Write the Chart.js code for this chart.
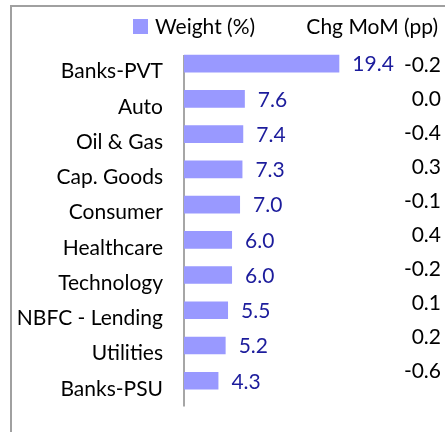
<!DOCTYPE html>
<html>
<head>
<meta charset="utf-8">
<script src="https://cdn.jsdelivr.net/npm/chart.js@4/dist/chart.umd.min.js"></script>
<style>
  html, body { margin: 0; padding: 0; background: #fff; }
  #wrap { width: 445px; height: 432px; }
</style>
</head>
<body>
<div id="wrap"><canvas id="weightView"></canvas></div>
<script>
const sectors = ["Banks-PVT", "Auto", "Oil & Gas", "Cap. Goods", "Consumer",
    "Healthcare", "Technology", "NBFC - Lending", "Utilities", "Banks-PSU"];
const weights = [19.4, 7.6, 7.4, 7.3, 7.0, 6.0, 6.0, 5.5, 5.2, 4.3];
const chgMoM = [-0.2, 0.0, -0.4, 0.3, -0.1, 0.4, -0.2, 0.1, 0.2, -0.6];

const FONT = "Lato, 'Open Sans', sans-serif";
const BAR = "#9999ff";
const LABEL_BLUE = "#1c1c9c";

// frame, axis line, header, value labels and the MoM column
const extras = {
    id: "extras",
    beforeDraw(chart) {
        const c = chart.ctx;
        const area = chart.chartArea;
        c.save();
        c.strokeStyle = "#a0a0a0";
        c.lineWidth = 2;
        c.strokeRect(11, 6, 600, 600);
        c.strokeStyle = "#a6a6a6";
        c.beginPath();
        c.moveTo(area.left, area.top + 9);
        c.lineTo(area.left, area.bottom + 8);
        c.stroke();
        c.restore();
    },
    afterDatasetsDraw(chart) {
        const c = chart.ctx;
        const meta = chart.getDatasetMeta(0);
        const y = chart.scales.y;
        c.save();
        c.font = "21px " + FONT;
        c.textBaseline = "middle";

        // legend
        c.fillStyle = BAR;
        c.fillRect(133, 19, 15, 15);
        c.fillStyle = "#000";
        c.textAlign = "left";
        c.fillText("Weight (%)", 155, 27);
        c.textAlign = "right";
        c.fillText("Chg MoM (pp)", 438, 27);

        meta.data.forEach((bar, i) => {
            c.textAlign = "left";
            c.fillStyle = LABEL_BLUE;
            c.fillText(weights[i].toFixed(1), bar.x + 13, bar.y + 1);
            c.textAlign = "right";
            c.fillStyle = "#000";
            c.fillText(chgMoM[i].toFixed(1), 441, y.getPixelForValue(i) + 2 - i * 1.33);
        });
        c.restore();
    },
};

new Chart(document.getElementById("weightView"), {
    type: "bar",
    data: {
        labels: sectors,
        datasets: [
            {
                label: "Weight (%)",
                data: weights,
                backgroundColor: BAR,
                borderWidth: 0,
                categoryPercentage: 1.0,
                barPercentage: 0.5,
            },
        ],
    },
    options: {
        indexAxis: "y",
        responsive: true,
        maintainAspectRatio: false,
        animation: false,
        layout: {
            padding: { left: 10, right: 0, top: 46, bottom: 26 },
        },
        plugins: {
            legend: { display: false },
            tooltip: { enabled: false },
        },
        scales: {
            x: {
                display: false,
                min: 0,
                max: 32.6,
            },
            y: {
                afterFit(axis) {
                    axis.width = 174;
                },
                grid: { display: false, drawTicks: false },
                border: { display: false },
                ticks: {
                    color: "#000",
                    padding: 21,
                    labelOffset: 8,
                    font: { family: FONT, size: 21 },
                },
            },
        },
    },
    plugins: [extras],
});
</script>
</body>
</html>
